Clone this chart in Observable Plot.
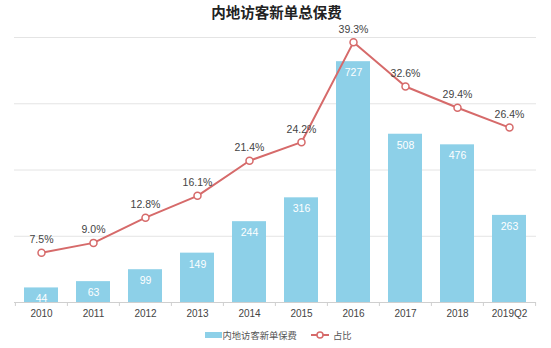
<!DOCTYPE html>
<html>
<head>
<meta charset="utf-8">
<script src="https://cdn.jsdelivr.net/npm/d3@7"></script>
<script src="https://cdn.jsdelivr.net/npm/@observablehq/plot@0.6"></script>
<style>
  body { margin: 0; background: #fff; font-family: "Noto Sans CJK SC", "Liberation Sans", sans-serif; }
  #wrap { width: 551px; height: 348px; position: relative; overflow: hidden; }
  #title { height: 20px; line-height: 24px; text-align: center; font-size: 14.5px; font-weight: bold; color: #222; padding-left: 2px; }
  #chart svg { overflow: visible; display: block; }
  #legend { height: 20px; display: flex; align-items: center; justify-content: center; font-size: 9.3px; color: #555; padding-left: 5px; margin-top: 1px; }
  #legend .item { display: flex; align-items: center; }
  #legend .item + .item { margin-left: 14px; }
</style>
</head>
<body>
<div id="wrap">
  <div id="title">内地访客新单总保费</div>
  <div id="chart"></div>
  <div id="legend"></div>
</div>
<script>
const categories = ["2010","2011","2012","2013","2014","2015","2016","2017","2018","2019Q2"];
const premiums = [44, 63, 99, 149, 244, 316, 727, 508, 476, 263];
const shares = [7.5, 9.0, 12.8, 16.1, 21.4, 24.2, 39.3, 32.6, 29.4, 26.4];
const gridValues = [200, 400, 600, 800];
const seriesNames = ["内地访客新单保费", "占比"];

const barColor = "#8dd0e8";
const lineColor = "#d66a6a";

const data = categories.map((c, i) => ({cat: c, premium: premiums[i], share: shares[i], shareY: shares[i] * 20}));

const W = 551, H = 304, mL = 14, mR = 15;
const step = (W - mL - mR) / categories.length;

const chart = Plot.plot({
  width: W,
  height: H,
  marginLeft: mL,
  marginRight: mR,
  marginTop: 17,
  marginBottom: 22,
  style: {fontFamily: "'Liberation Sans', Arial, sans-serif", background: "transparent", overflow: "visible"},
  x: {domain: categories, paddingInner: 0.34, paddingOuter: 0.17, label: null},
  y: {domain: [0, 800], axis: null},
  marks: [
    Plot.ruleY(gridValues, {stroke: "#e4e4e4", strokeWidth: 1}),
    Plot.barY(data, {x: "cat", y: "premium", fill: barColor}),
    Plot.ruleY([0], {stroke: "#cfcfcf", strokeWidth: 1}),
    Plot.ruleX(categories, {x: d => d, dx: -step / 2, y1: 0, y2: -12, stroke: "#cfcfcf", clip: false}),
    Plot.ruleX(categories.slice(-1), {x: d => d, dx: step / 2, y1: 0, y2: -12, stroke: "#cfcfcf", clip: false}),
    Plot.text(data, {x: "cat", y: "premium", text: d => String(d.premium), dy: 11, fill: "#fff", fontSize: 10.5}),
    Plot.line(data, {x: "cat", y: "shareY", stroke: lineColor, strokeWidth: 2}),
    Plot.dot(data, {x: "cat", y: "shareY", r: 3.5, fill: "#fff", stroke: lineColor, strokeWidth: 1.5}),
    Plot.text(data, {x: "cat", y: "shareY", text: d => d.share.toFixed(1) + "%", dy: -13, fill: "#444", fontSize: 10.5}),
    Plot.axisX({tickSize: 0, tickPadding: 7, fontSize: 10, color: "#444"})
  ]
});
document.getElementById("chart").appendChild(chart);

const legend = document.getElementById("legend");
legend.innerHTML = `
  <div class="item"><svg width="17" height="6" style="margin-right:1px"><rect width="17" height="6" fill="${barColor}"/></svg><span>${seriesNames[0]}</span></div>
  <div class="item"><svg width="18" height="8" style="margin-right:4px"><line x1="0" y1="4" x2="18" y2="4" stroke="${lineColor}" stroke-width="2"/><circle cx="9" cy="4" r="3" fill="#fff" stroke="${lineColor}" stroke-width="1.5"/></svg><span>${seriesNames[1]}</span></div>`;
</script>
</body>
</html>
